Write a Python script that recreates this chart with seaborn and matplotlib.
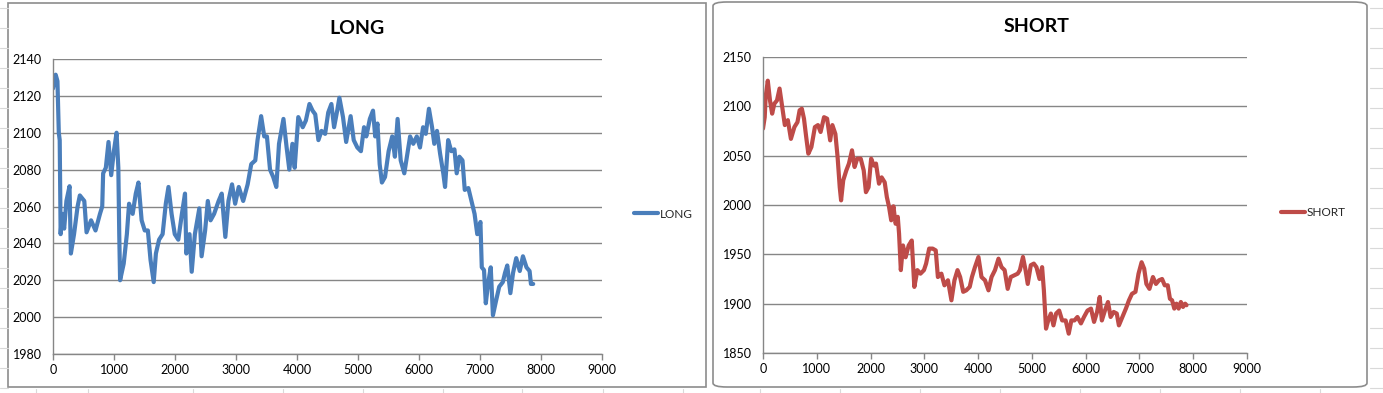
import numpy as np
import pandas as pd
import matplotlib
matplotlib.use("Agg")
import matplotlib.pyplot as plt
from matplotlib.patches import FancyBboxPatch, Rectangle
from matplotlib.lines import Line2D
import seaborn as sns

# LONG series
long_x = [0, 44, 73, 95, 110, 125, 147, 183, 220, 271, 293, 345, 403, 440, 513, 550, 624, 697,
          770, 807, 822, 866, 910, 954, 998, 1042, 1071, 1086, 1100, 1159, 1211, 1247, 1306,
          1357, 1401, 1453, 1504, 1555, 1599, 1651, 1687, 1739, 1797, 1849, 1893, 1944, 1996,
          2054, 2113, 2164, 2186, 2238, 2274, 2326, 2399, 2436, 2494, 2538, 2583, 2641, 2715,
          2766, 2825, 2876, 2935, 2986, 3045, 3118, 3191, 3250, 3316, 3353, 3412, 3463, 3507,
          3558, 3610, 3661, 3705, 3778, 3830, 3874, 3925, 3962, 4021, 4094, 4145, 4204, 4255,
          4299, 4351, 4402, 4461, 4512, 4564, 4608, 4659, 4695, 4754, 4806, 4879, 4930, 4989,
          5048, 5099, 5136, 5194, 5246, 5282, 5319, 5355, 5392, 5443, 5502, 5561, 5605, 5649,
          5700, 5759, 5810, 5854, 5906, 5964, 6016, 6067, 6111, 6163, 6214, 6251, 6295, 6346,
          6398, 6427, 6478, 6530, 6581, 6618, 6662, 6713, 6750, 6809, 6860, 6911, 6955, 7007,
          7029, 7066, 7095, 7132, 7176, 7212, 7264, 7315, 7374, 7410, 7447, 7498, 7542, 7594,
          7652, 7704, 7762, 7813, 7835, 7872]
long_y = [2124, 2131.5, 2128, 2100, 2096, 2045, 2056, 2048, 2063, 2071, 2034.5, 2045, 2060,
          2066, 2063, 2046, 2052.5, 2047, 2056, 2060, 2078, 2081, 2095, 2077, 2090, 2100, 2081,
          2045, 2020, 2029, 2045, 2061.5, 2056, 2067, 2073, 2052.5, 2047, 2047, 2031, 2019,
          2034.5, 2042, 2045, 2061.5, 2070.6, 2056, 2045, 2042, 2056, 2067, 2034.5, 2045,
          2024.6, 2045, 2059, 2033, 2047, 2063, 2052.5, 2056, 2063, 2067, 2043.5, 2063, 2072,
          2061.5, 2070.6, 2063, 2072, 2083, 2085, 2096, 2109, 2098, 2098, 2080, 2076, 2070.6,
          2094, 2107.5, 2092, 2080, 2094, 2081, 2108.5, 2103, 2106.6, 2115.6, 2112, 2110, 2096,
          2101, 2099.4, 2111, 2115.6, 2103, 2112, 2119, 2108.5, 2095, 2109, 2096, 2092, 2090,
          2103, 2098, 2107.5, 2112, 2098, 2105, 2083, 2073, 2076, 2090, 2098, 2087, 2107.5,
          2085, 2078, 2088.6, 2098, 2094, 2098, 2092, 2103, 2099.4, 2113, 2103, 2094, 2101,
          2088.6, 2078, 2070.6, 2096, 2090, 2091, 2078, 2087, 2085, 2069, 2070, 2063, 2056,
          2045, 2051.6, 2027, 2025.5, 2007.5, 2018, 2027, 2001, 2009, 2016.5, 2019, 2024, 2028,
          2013, 2024, 2032, 2025, 2033, 2027, 2025, 2018, 2018]

# SHORT series
short_x = [0, 32, 49, 89, 130, 170, 211, 260, 308, 357, 406, 462, 519, 584, 641, 681, 722, 762,
           803, 843, 900, 965, 1022, 1071, 1135, 1192, 1249, 1290, 1346, 1387, 1427, 1452, 1492,
           1549, 1598, 1655, 1703, 1752, 1817, 1873, 1914, 1963, 2011, 2060, 2101, 2157, 2206,
           2263, 2303, 2344, 2384, 2425, 2466, 2506, 2530, 2563, 2603, 2652, 2709, 2766, 2790,
           2814, 2871, 2928, 2993, 3033, 3090, 3155, 3212, 3252, 3317, 3374, 3439, 3504, 3560,
           3617, 3666, 3723, 3779, 3844, 3885, 3941, 4006, 4063, 4128, 4193, 4250, 4314, 4379,
           4436, 4493, 4550, 4607, 4671, 4736, 4777, 4834, 4882, 4923, 4980, 5036, 5085, 5142,
           5190, 5223, 5263, 5304, 5353, 5401, 5450, 5507, 5563, 5628, 5685, 5734, 5791, 5847,
           5912, 5969, 6034, 6099, 6156, 6212, 6261, 6301, 6358, 6415, 6464, 6521, 6578, 6618,
           6683, 6748, 6805, 6861, 6926, 6983, 7040, 7088, 7129, 7186, 7251, 7307, 7364, 7421,
           7470, 7526, 7567, 7607, 7648, 7689, 7729, 7770, 7810, 7851, 7875]
short_y = [2077.4, 2089, 2109.5, 2126, 2106, 2092.6, 2102.7, 2106, 2118, 2099.3, 2081, 2086,
           2067, 2079, 2084, 2096, 2097.6, 2087.5, 2069, 2052, 2058.8, 2079, 2081, 2074, 2089,
           2087.5, 2065.5, 2081, 2072, 2048.7, 2018, 2004.7, 2025, 2035, 2042, 2055.4, 2038.5,
           2047, 2047, 2035, 2013, 2018, 2047, 2040, 2042, 2021.6, 2028, 2023, 2008, 1998,
           1984.5, 1998.7, 1981, 1988, 1971, 1934, 1959, 1947, 1959, 1964, 1940.6, 1917, 1934,
           1930.4, 1934, 1940.6, 1955.8, 1955.8, 1954, 1927, 1930.4, 1918.6, 1923.7, 1903.4,
           1923.7, 1934, 1927, 1912, 1913.5, 1917, 1927, 1937, 1947.3, 1927, 1923.7, 1913.5,
           1927, 1934, 1945.6, 1937, 1934, 1915, 1927, 1928.7, 1930.4, 1934, 1947.3, 1934, 1920,
           1939, 1940.6, 1937, 1925, 1937, 1913.5, 1874.7, 1883, 1890, 1878, 1890, 1893, 1883,
           1883, 1869.6, 1883, 1883, 1886.5, 1880, 1886.5, 1893, 1895, 1881.5, 1891.6, 1906.8,
           1883, 1893, 1901.7, 1886.5, 1891.6, 1890, 1878, 1886.5, 1895, 1903.4, 1910, 1912,
           1930.4, 1942, 1935.5, 1920, 1915, 1927, 1920, 1923.7, 1925, 1918.6, 1918.6, 1905,
           1903.4, 1895, 1900, 1895, 1901.7, 1896.7, 1900, 1898.4]

x_ticks = [0, 1000, 2000, 3000, 4000, 5000, 6000, 7000, 8000, 9000]
long_yticks = [1980, 2000, 2020, 2040, 2060, 2080, 2100, 2120, 2140]
short_yticks = [1850, 1900, 1950, 2000, 2050, 2100, 2150]

df_long = pd.DataFrame({"x": long_x, "y": long_y})
df_short = pd.DataFrame({"x": short_x, "y": short_y})

sns.set_style("white")
plt.rcParams["font.family"] = ["Lato", "DejaVu Sans"]

W, H = 1383, 393
fig = plt.figure(figsize=(W / 100, H / 100), dpi=100)
fig.patch.set_facecolor("white")

# spreadsheet grid behind the charts
sheet = "#d9d9d9"
for yy in range(8, H, 20):
    fig.add_artist(Line2D([1370 / W, 1], [1 - yy / H] * 2, color=sheet, lw=0.8))
    fig.add_artist(Line2D([0, 8 / W], [1 - yy / H] * 2, color=sheet, lw=0.8))
for xx in [36, 88, 193, 283, 363, 443, 522, 603, 683, 760, 840, 920, 1000, 1080, 1160, 1240, 1320]:
    fig.add_artist(Line2D([xx / W] * 2, [0, 4 / H], color=sheet, lw=0.8))

# chart frames
fig.add_artist(Rectangle((8 / W, 1 - 387 / H), (706 - 8) / W, (387 - 3) / H,
                         facecolor="white", edgecolor="#8c8c8c", lw=1.2, zorder=0))
fig.add_artist(FancyBboxPatch((713 / W, 1 - 387 / H), (1367 - 713) / W, (387 - 2) / H,
                              boxstyle="round,pad=0,rounding_size=0.01",
                              facecolor="white", edgecolor="#8c8c8c", lw=1.2, zorder=0))


def make_panel(rect, df, color, title, yticks, title_xy, legend_xy):
    ax = fig.add_axes(rect)
    sns.lineplot(data=df, x="x", y="y", ax=ax, color=color, lw=3.0, label=title)
    ax.set_xlim(0, 9000)
    ax.set_ylim(yticks[0], yticks[-1])
    ax.set_xticks(x_ticks)
    ax.set_yticks(yticks)
    ax.set_xlabel("")
    ax.set_ylabel("")
    ax.set_facecolor("none")
    ax.grid(axis="y", color="#868686", lw=1)
    ax.set_axisbelow(True)
    for s in ["top", "right"]:
        ax.spines[s].set_visible(False)
    for s in ["left", "bottom"]:
        ax.spines[s].set_color("#868686")
        ax.spines[s].set_linewidth(1)
    ax.tick_params(axis="x", length=4, width=1, color="#868686", direction="out",
                   labelsize=9, pad=3, bottom=True, labelcolor="black")
    ax.tick_params(axis="y", length=0, labelsize=9, pad=8, left=True, labelcolor="black")
    fig.text(title_xy[0] / W, 1 - title_xy[1] / H, title, ha="center", va="center",
             fontsize=14, fontweight="bold", color="black")
    ax.legend(loc="center left", bbox_to_anchor=(legend_xy[0] / W, 1 - legend_xy[1] / H),
              bbox_transform=fig.transFigure, frameon=False, fontsize=8.5,
              handlelength=2.0, handletextpad=0.2, borderpad=0, borderaxespad=0)
    return ax


make_panel([53 / W, 1 - 354 / H, (602 - 53) / W, (354 - 59) / H], df_long, "#4a7ebb",
           "LONG", long_yticks, (357, 28), (634, 214))
make_panel([763 / W, 1 - 353 / H, (1247 - 763) / W, (353 - 57) / H], df_short, "#be4b48",
           "SHORT", short_yticks, (1037, 26), (1281, 213))

fig.savefig("out.png", dpi=100)
